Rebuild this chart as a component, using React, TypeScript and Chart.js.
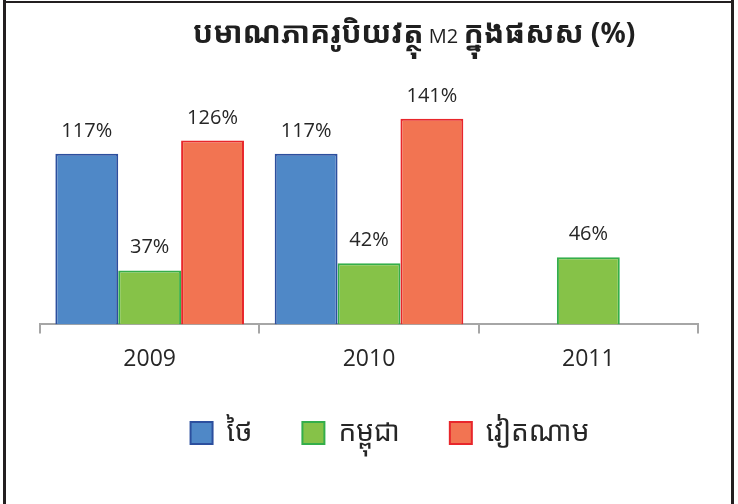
import React, { useEffect, useRef } from "react";
import { Chart, registerables } from "chart.js";

Chart.register(...registerables);

const categories = ["2009", "2010", "2011"];
const seriesNames = ["ថៃ", "កម្ពុជា", "វៀតណាម"];
const thailand = [117, 117, null];
const cambodia = [37, 42, 46];
const vietnam = [126, 141, null];
const titleParts = ["បមាណភាគរូបិយវត្ថុ", "M2", "ក្នុងផសស", "(%)"];

const LATIN = "'Open Sans', 'DejaVu Sans', sans-serif";
const KHMER = "'Noto Sans Khmer', 'Khmer OS', 'Noto Sans', 'DejaVu Sans', sans-serif";

const framePlugin = {
  id: "frame",
  beforeDraw(chart: any) {
    const { ctx, width, height } = chart;
    ctx.save();
    ctx.fillStyle = "#ffffff";
    ctx.fillRect(0, 0, width, height);
    ctx.fillStyle = "#231f20";
    ctx.fillRect(3, 0, 3, height);
    ctx.fillRect(3, 1, 731, 2);
    ctx.fillRect(731, 0, 3, height);
    ctx.restore();
  },
};

const legendShift = {
  id: "legendShift",
  afterLayout(chart: any) {
    const lg = chart.legend;
    if (lg) {
      lg.left += 21;
      lg.right += 21;
    }
  },
};

const titlePlugin = {
  id: "khTitle",
  afterDraw(chart: any) {
    const { ctx } = chart;
    ctx.save();
    ctx.fillStyle = "#1f1f1f";
    ctx.textBaseline = "alphabetic";
    const parts = [
      { t: titleParts[0], f: `bold 30px ${KHMER}` },
      { t: " " + titleParts[1] + " ", f: `20px ${LATIN}` },
      { t: titleParts[2], f: `bold 30px ${KHMER}` },
      { t: " " + titleParts[3], f: `bold 28px ${KHMER}` },
    ];
    let total = 0;
    parts.forEach((p) => {
      ctx.font = p.f;
      total += ctx.measureText(p.t).width;
    });
    let x = 414 - total / 2;
    parts.forEach((p) => {
      ctx.font = p.f;
      ctx.fillText(p.t, x, 43);
      x += ctx.measureText(p.t).width;
    });
    ctx.restore();
  },
};

const labelPlugin = {
  id: "valueLabels",
  afterDatasetsDraw(chart: any) {
    const { ctx } = chart;
    ctx.save();
    ctx.font = `20px ${LATIN}`;
    ctx.fillStyle = "#262626";
    ctx.textAlign = "center";
    ctx.textBaseline = "alphabetic";
    chart.data.datasets.forEach((ds: any, i: number) => {
      const meta = chart.getDatasetMeta(i);
      meta.data.forEach((el: any, j: number) => {
        const v = ds.data[j];
        if (v === null || v === undefined) return;
        ctx.fillText(`${v}%`, el.x, el.y - 17);
      });
    });
    ctx.restore();
  },
};

export default function App() {
  const ref = useRef<HTMLCanvasElement>(null);
  useEffect(() => {
    document.body.style.margin = "0";
    const chart = new Chart(ref.current!, {
      type: "bar",
      data: {
        labels: categories,
        datasets: [
          { label: seriesNames[0], data: thailand, backgroundColor: "#4f88c7", borderColor: "#2c4f9e", borderWidth: 2 },
          { label: seriesNames[1], data: cambodia, backgroundColor: "#86c248", borderColor: "#34ae4a", borderWidth: 2 },
          { label: seriesNames[2], data: vietnam, backgroundColor: "#f27452", borderColor: "#e8262b", borderWidth: 2 },
        ],
      },
      options: {
        animation: false,
        responsive: false,
        devicePixelRatio: 1,
        layout: { padding: { top: 91, left: 40, right: 40, bottom: 47 } },
        datasets: { bar: { categoryPercentage: 0.86, barPercentage: 1 } },
        scales: {
          x: {
            grid: { display: true, drawOnChartArea: false, drawTicks: true, tickLength: 9, color: "#a6a6a6", lineWidth: 2 },
            border: { display: true, color: "#a6a6a6", width: 2 },
            ticks: { font: { family: LATIN, size: 23 }, color: "#262626", padding: 12 },
            afterFit(scale: any) {
              scale.height -= 16;
            },
          },
          y: { display: false, min: 0, max: 160 },
        },
        plugins: {
          title: { display: false },
          tooltip: { enabled: false },
          legend: {
            position: "bottom",
            labels: {
              font: { family: KHMER, size: 28 },
              color: "#262626",
              boxWidth: 22,
              boxHeight: 22,
              padding: 50,
            },
          },
        },
      },
      plugins: [framePlugin, legendShift, titlePlugin, labelPlugin],
    });
    return () => chart.destroy();
  }, []);
  return (
    <div style={{ width: 738, height: 504 }}>
      <canvas ref={ref} width={738} height={504} style={{ display: "block" }} />
    </div>
  );
}
